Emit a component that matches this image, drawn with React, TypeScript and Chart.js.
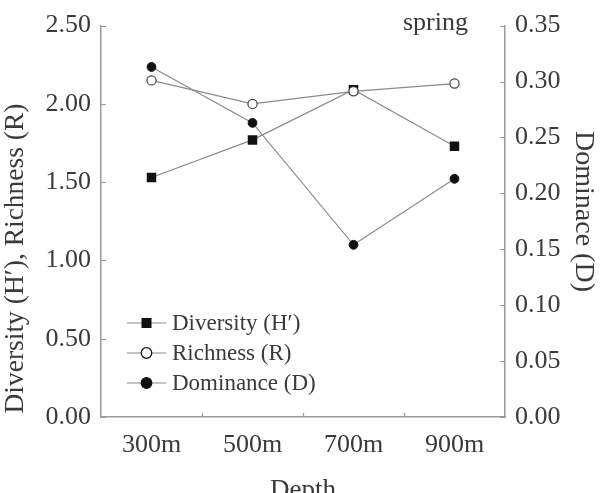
import React, { useEffect, useRef } from "react";
import { Chart, registerables } from "chart.js";

Chart.register(...registerables);

const depths = ["300m", "500m", "700m", "900m"];
const diversity = [1.53, 1.77, 2.09, 1.73];
const richness = [2.15, 2.0, 2.08, 2.13];
const dominance = [0.313, 0.263, 0.154, 0.213];
const leftTicks = [0, 0.5, 1.0, 1.5, 2.0, 2.5];
const rightTicks = [0, 0.05, 0.1, 0.15, 0.2, 0.25, 0.3, 0.35];
const seriesNames = ["Diversity (H\u2032)", "Richness (R)", "Dominance (D)"];
const leftTitle = "Diversity (H\u2032), Richness (R)";
const rightTitle = "Dominace (D)";
const xTitle = "Depth";
const seasonLabel = "spring";

const FONT = "'Liberation Serif', 'Times New Roman', serif";
const TEXT = "#3a3a3a";
const AXIS = "#9a9a9a";
const LINE = "#8a8a8a";
const MARK = "#111111";

export default function App() {
  const ref = useRef<HTMLCanvasElement | null>(null);
  useEffect(() => {
    if (!ref.current) return;
    const overlay = {
      id: "overlay",
      afterDraw(chart: any) {
        const ctx = chart.ctx;
        const ca = chart.chartArea;
        const x = chart.scales.x;
        const y = chart.scales.y;
        const y1 = chart.scales.y1;
        ctx.save();
        ctx.strokeStyle = AXIS;
        ctx.lineWidth = 1.2;
        ctx.beginPath();
        leftTicks.forEach((v) => {
          const py = Math.round(y.getPixelForValue(v)) + 0.5;
          ctx.moveTo(ca.left, py);
          ctx.lineTo(ca.left + 5, py);
        });
        rightTicks.forEach((v) => {
          const py = Math.round(y1.getPixelForValue(v)) + 0.5;
          ctx.moveTo(ca.right, py);
          ctx.lineTo(ca.right - 5, py);
        });
        for (let i = 0; i < depths.length - 1; i++) {
          const px = Math.round((x.getPixelForValue(i) + x.getPixelForValue(i + 1)) / 2) + 0.5;
          ctx.moveTo(px, ca.bottom);
          ctx.lineTo(px, ca.bottom - 4);
        }
        ctx.stroke();

        // titles
        ctx.fillStyle = TEXT;
        ctx.textAlign = "center";
        ctx.textBaseline = "middle";
        ctx.font = `27.5px ${FONT}`;
        ctx.save();
        ctx.translate(16, 258.5);
        ctx.rotate(-Math.PI / 2);
        ctx.fillText(leftTitle, 0, 0);
        ctx.restore();
        ctx.font = `28px ${FONT}`;
        ctx.save();
        ctx.translate(583, 211.5);
        ctx.rotate(Math.PI / 2);
        ctx.fillText(rightTitle, 0, 0);
        ctx.restore();
        ctx.font = `27px ${FONT}`;
        ctx.textBaseline = "alphabetic";
        ctx.fillText(xTitle, (ca.left + ca.right) / 2, 498);
        ctx.font = `26px ${FONT}`;
        ctx.textAlign = "right";
        ctx.textBaseline = "middle";
        ctx.fillText(seasonLabel, 468, 23);

        // legend
        const rows = [323, 353, 383];
        ctx.font = `23px ${FONT}`;
        ctx.textAlign = "left";
        chart.data.datasets.forEach((ds: any, i: number) => {
          const ry = rows[i];
          ctx.strokeStyle = LINE;
          ctx.lineWidth = 1.2;
          ctx.beginPath();
          ctx.moveTo(127, ry);
          ctx.lineTo(166, ry);
          ctx.stroke();
          ctx.lineWidth = 1.2;
          ctx.strokeStyle = MARK;
          ctx.fillStyle = ds.pointBackgroundColor;
          if (ds.pointStyle === "rect") {
            ctx.fillRect(141.5, ry - 5, 10, 10);
          } else {
            ctx.beginPath();
            ctx.arc(146.5, ry, 5.3, 0, Math.PI * 2);
            ctx.fill();
            ctx.stroke();
          }
          ctx.fillStyle = TEXT;
          ctx.fillText(ds.label, 172, ry + 1);
        });
        ctx.restore();
      },
    };

    const tickFont = { family: FONT, size: 26 };

    const chart = new Chart(ref.current, {
      type: "line",
      data: {
        labels: depths,
        datasets: [
          {
            label: seriesNames[0],
            data: diversity,
            yAxisID: "y",
            borderColor: LINE,
            borderWidth: 1.2,
            pointStyle: "rect",
            pointRadius: 6.7,
            pointBackgroundColor: MARK,
            pointBorderColor: MARK,
            pointBorderWidth: 0,
            order: 1,
          },
          {
            label: seriesNames[1],
            data: richness,
            yAxisID: "y",
            borderColor: LINE,
            borderWidth: 1.2,
            pointStyle: "circle",
            pointRadius: 4.6,
            pointBackgroundColor: "#ffffff",
            pointBorderColor: "#444444",
            pointBorderWidth: 1.2,
            order: 0,
          },
          {
            label: seriesNames[2],
            data: dominance,
            yAxisID: "y1",
            borderColor: LINE,
            borderWidth: 1.2,
            pointStyle: "circle",
            pointRadius: 4.4,
            pointBackgroundColor: MARK,
            pointBorderColor: MARK,
            pointBorderWidth: 1,
            order: 2,
          },
        ],
      },
      options: {
        animation: false,
        responsive: false,
        maintainAspectRatio: false,
        layout: { padding: { top: 15, left: 0, right: 0, bottom: 0 } },
        plugins: { legend: { display: false }, tooltip: { enabled: false } },
        scales: {
          x: {
            type: "category",
            offset: true,
            grid: { display: false, drawTicks: false, tickLength: 0 },
            border: { display: true, color: AXIS, width: 1.5 },
            ticks: { color: TEXT, font: tickFont, padding: 13, maxRotation: 0 },
            afterFit: (s: any) => { s.height = 76; },
          },
          y: {
            position: "left",
            min: 0,
            max: 2.5,
            grid: { display: false, drawTicks: false, tickLength: 0 },
            border: { display: true, color: AXIS, width: 1.5 },
            afterBuildTicks: (s: any) => { s.ticks = leftTicks.map((v) => ({ value: v })); },
            ticks: {
              color: TEXT,
              font: tickFont,
              padding: 10,
              callback: (v: any) => Number(v).toFixed(2),
            },
            afterFit: (s: any) => { s.width = 101; },
          },
          y1: {
            position: "right",
            min: 0,
            max: 0.35,
            grid: { display: false, drawTicks: false, tickLength: 0 },
            border: { display: true, color: AXIS, width: 1.5 },
            afterBuildTicks: (s: any) => { s.ticks = rightTicks.map((v) => ({ value: v })); },
            ticks: {
              color: TEXT,
              font: tickFont,
              padding: 10,
              callback: (v: any) => Number(v).toFixed(2),
            },
            afterFit: (s: any) => { s.width = 97; },
          },
        },
      },
      plugins: [overlay],
    });
    return () => chart.destroy();
  }, []);

  return (
    <div style={{ position: "fixed", left: 0, top: 0, width: 602, height: 493, background: "#fff" }}>
      <canvas ref={ref} width={602} height={493} style={{ width: 602, height: 493, display: "block" }} />
    </div>
  );
}
